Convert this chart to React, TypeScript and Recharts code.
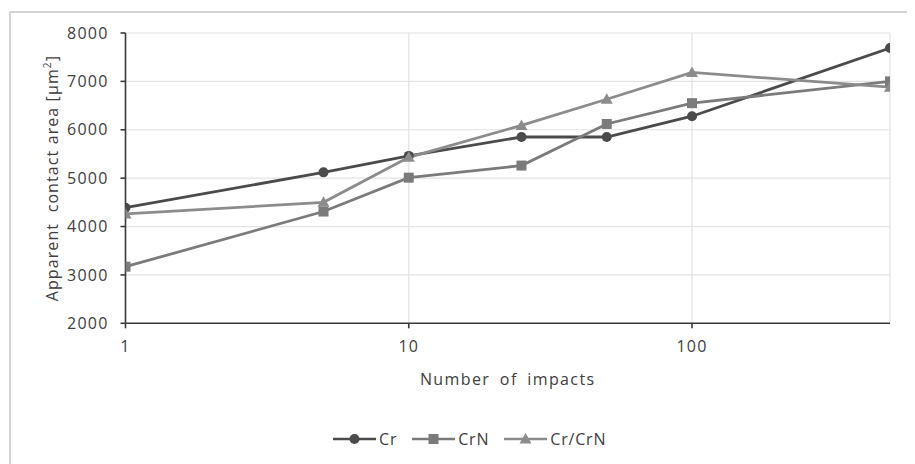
import React from 'react'
import { LineChart, Line, XAxis, YAxis, CartesianGrid, Label } from 'recharts'

// number of impacts (log scale)
const impacts = [1, 5, 10, 25, 50, 100, 500]
const crArea = [4390, 5120, 5460, 5850, 5850, 6280, 7690]
const crnArea = [3170, 4310, 5010, 5260, 6120, 6550, 7000]
const crCrnArea = [4260, 4500, 5430, 6090, 6630, 7185, 6880]

const xTicks = [1, 10, 100]
const yTicks = [2000, 3000, 4000, 5000, 6000, 7000, 8000]

const seriesNames = ['Cr', 'CrN', 'Cr/CrN']
const seriesKeys = ['cr', 'crn', 'crcrn']
const seriesColors = ['#4b4b4b', '#7b7b7b', '#8c8c8c']
const seriesShapes = ['circle', 'square', 'triangle']

const data = impacts.map((n, i) => ({
  n,
  cr: crArea[i],
  crn: crnArea[i],
  crcrn: crCrnArea[i],
}))

const FONT = '"Open Sans", "DejaVu Sans", sans-serif'
const TEXT = '#404040'
const LS = 1.2

function Marker({ cx, cy, shape, color }: any) {
  if (cx == null || cy == null) return null
  if (shape === 'circle') return <circle cx={cx} cy={cy} r={5} fill={color} />
  if (shape === 'square') return <rect x={cx - 5} y={cy - 5} width={10} height={10} fill={color} />
  return <polygon points={`${cx},${cy - 6} ${cx + 6},${cy + 4.5} ${cx - 6},${cy + 4.5}`} fill={color} />
}

const App = () => {
  return (
    <div style={{ position: 'relative', width: 907, height: 456, overflow: 'hidden', fontFamily: FONT }}>
      <div
        style={{
          position: 'absolute',
          left: 1,
          top: 3,
          width: 1200,
          height: 1200,
          border: '2px solid #d4d4d4',
          boxSizing: 'border-box',
        }}
      />
      <LineChart
        width={907}
        height={456}
        data={data}
        margin={{ top: 25, right: 25, left: 57.5, bottom: 110.7 }}
        style={{ position: 'absolute', left: 0, top: 0 }}
      >
        <CartesianGrid stroke="#e3e3e3" strokeWidth={1.2} />
        <XAxis
          dataKey="n"
          type="number"
          scale="log"
          domain={[1, 500]}
          ticks={xTicks}
          height={30}
          axisLine={{ stroke: '#3a3a3a', strokeWidth: 1.6 }}
          tickLine={{ stroke: '#3a3a3a', strokeWidth: 1.6 }}
          tickSize={5}
          tickMargin={12}
          tick={{ fill: TEXT, fontSize: 16, fontFamily: FONT, letterSpacing: LS }}
          allowDataOverflow
        >
          <Label
            content={({ viewBox }: any) => (
              <text
                x={viewBox.x + viewBox.width / 2}
                y={viewBox.y + 62}
                textAnchor="middle"
                fill={TEXT}
                fontSize={16}
                fontFamily={FONT}
                letterSpacing={1.4}
                wordSpacing={4}
              >
                Number of impacts
              </text>
            )}
          />
        </XAxis>
        <YAxis
          type="number"
          domain={[2000, 8000]}
          ticks={yTicks}
          width={60}
          axisLine={{ stroke: '#3a3a3a', strokeWidth: 1.6 }}
          tickLine={{ stroke: '#3a3a3a', strokeWidth: 1.6 }}
          tickSize={5}
          tickMargin={12}
          tick={{ fill: TEXT, fontSize: 16, fontFamily: FONT, letterSpacing: LS }}
        >
          <Label
            content={({ viewBox }: any) => {
              const x = viewBox.x - 7.5
              const y = viewBox.y + viewBox.height / 2
              return (
                <text
                  x={x}
                  y={y}
                  transform={`rotate(-90, ${x}, ${y})`}
                  textAnchor="middle"
                  fill={TEXT}
                  fontSize={16}
                  fontFamily={FONT}
                  letterSpacing={1.1}
                  xmlSpace="preserve"
                >
                  {'Apparent  contact area [μm'}
                  <tspan fontSize={10} dy={-7}>2</tspan>
                  <tspan dy={7}>]</tspan>
                </text>
              )
            }}
          />
        </YAxis>
        {seriesKeys.map((k, i) => (
          <Line
            key={k}
            dataKey={k}
            name={seriesNames[i]}
            stroke={seriesColors[i]}
            strokeWidth={2.8}
            isAnimationActive={false}
            dot={(p: any) => <Marker key={`${k}-${p.index}`} cx={p.cx} cy={p.cy} shape={seriesShapes[i]} color={seriesColors[i]} />}
            activeDot={false}
          />
        ))}
      </LineChart>
      <div
        style={{
          position: 'absolute',
          left: 325,
          top: 420,
          display: 'flex',
          alignItems: 'center',
          gap: 15,
          fontSize: 16,
          color: TEXT,
          letterSpacing: 0.8,
        }}
      >
        {seriesNames.map((name, i) => (
          <div key={name} style={{ display: 'flex', alignItems: 'center' }}>
            <svg width={43} height={18} style={{ marginRight: 3 }}>
              <line x1={0} y1={9} x2={43} y2={9} stroke={seriesColors[i]} strokeWidth={2.6} />
              <Marker cx={21.5} cy={9} shape={seriesShapes[i]} color={seriesColors[i]} />
            </svg>
            <span>{name}</span>
          </div>
        ))}
      </div>
    </div>
  )
}

export default App
